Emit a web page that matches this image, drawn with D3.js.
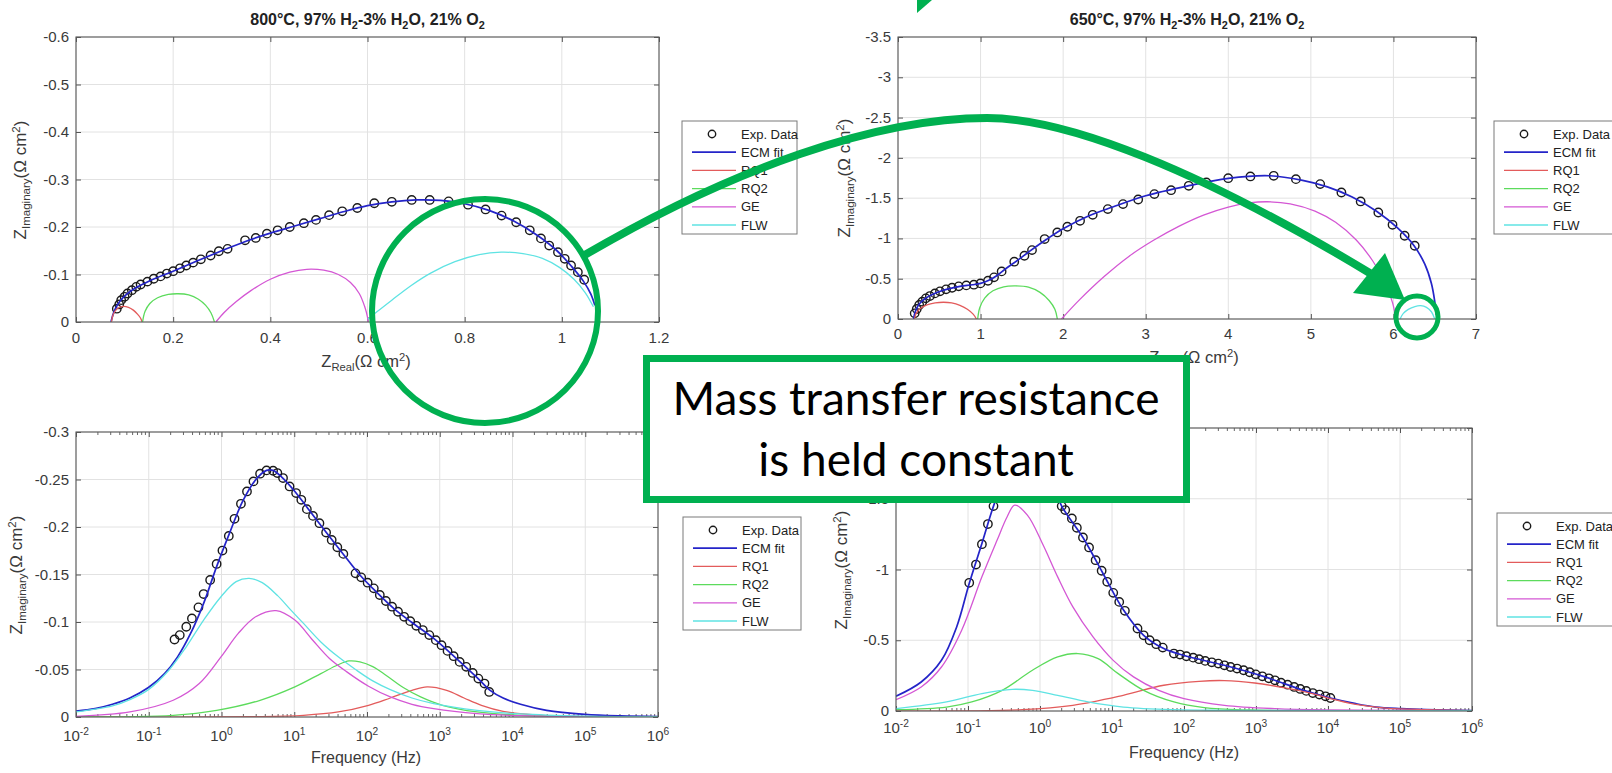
<!DOCTYPE html>
<html>
<head>
<meta charset="utf-8">
<script src="https://cdn.jsdelivr.net/npm/d3@7"></script>
<style>
  body { margin: 0; background: #fff; }
  svg text { font-family: "Liberation Sans", Arial, Helvetica, sans-serif; }
</style>
</head>
<body>
<svg id="chart" width="1612" height="773"></svg>
<script>
// ---- data: [Z', Z''] for Nyquist, [f (Hz), Z''] for Bode ----
const nyq800Exp = [[0.084,-0.028],[0.089,-0.037],[0.093,-0.046],[0.100,-0.053],[0.106,-0.060],[0.115,-0.067],[0.124,-0.074],[0.133,-0.079],[0.147,-0.085],[0.160,-0.091],[0.174,-0.096],[0.187,-0.102],[0.200,-0.107],[0.214,-0.113],[0.227,-0.119],[0.241,-0.125],[0.257,-0.132],[0.277,-0.140],[0.294,-0.149],[0.312,-0.154],[0.348,-0.172],[0.370,-0.177],[0.393,-0.186],[0.415,-0.193],[0.440,-0.200],[0.469,-0.208],[0.494,-0.215],[0.521,-0.225],[0.548,-0.233],[0.579,-0.240],[0.614,-0.250],[0.650,-0.253],[0.691,-0.257],[0.728,-0.257],[0.767,-0.254],[0.807,-0.247],[0.843,-0.237],[0.876,-0.224],[0.906,-0.210],[0.934,-0.193],[0.957,-0.176],[0.974,-0.161],[0.992,-0.147],[1.006,-0.133],[1.019,-0.119],[1.033,-0.105],[1.046,-0.089]];
const nyq800Fit = [[0.072,0],[0.076,-0.015],[0.082,-0.030],[0.090,-0.043],[0.105,-0.059],[0.125,-0.073],[0.150,-0.086],[0.200,-0.107],[0.250,-0.129],[0.300,-0.150],[0.350,-0.170],[0.400,-0.187],[0.450,-0.202],[0.500,-0.217],[0.550,-0.232],[0.600,-0.245],[0.650,-0.253],[0.700,-0.257],[0.750,-0.256],[0.800,-0.249],[0.850,-0.235],[0.900,-0.213],[0.950,-0.182],[0.990,-0.150],[1.020,-0.117],[1.045,-0.085],[1.060,-0.058],[1.068,-0.035]];
const nyq800RQ1 = [[0.073,0],[0.076,-0.014],[0.082,-0.025],[0.090,-0.031],[0.098,-0.033],[0.108,-0.031],[0.118,-0.025],[0.127,-0.016],[0.133,-0.008],[0.136,0]];
const nyq800RQ2 = [[0.137,0],[0.142,-0.022],[0.152,-0.039],[0.168,-0.051],[0.190,-0.058],[0.210,-0.0595],[0.232,-0.057],[0.252,-0.048],[0.267,-0.035],[0.278,-0.019],[0.285,0]];
const nyq800GE = [[0.288,0],[0.305,-0.020],[0.330,-0.043],[0.360,-0.066],[0.400,-0.090],[0.440,-0.105],[0.475,-0.111],[0.510,-0.109],[0.540,-0.100],[0.565,-0.083],[0.583,-0.060],[0.594,-0.033],[0.600,-0.010],[0.601,0]];
const nyq800FLW = [[0.601,-0.006],[0.620,-0.022],[0.650,-0.046],[0.690,-0.077],[0.730,-0.103],[0.780,-0.127],[0.830,-0.142],[0.875,-0.147],[0.920,-0.144],[0.960,-0.134],[0.995,-0.115],[1.025,-0.090],[1.048,-0.062],[1.065,-0.032]];

const nyq650Exp = [[0.202,-0.070],[0.227,-0.124],[0.257,-0.174],[0.294,-0.215],[0.337,-0.256],[0.386,-0.285],[0.447,-0.318],[0.508,-0.343],[0.582,-0.368],[0.655,-0.388],[0.735,-0.405],[0.827,-0.417],[0.919,-0.426],[0.998,-0.442],[1.090,-0.475],[1.163,-0.517],[1.255,-0.591],[1.408,-0.711],[1.531,-0.785],[1.623,-0.855],[1.776,-0.992],[1.929,-1.074],[2.051,-1.145],[2.205,-1.219],[2.358,-1.293],[2.541,-1.364],[2.725,-1.426],[2.909,-1.483],[3.105,-1.550],[3.307,-1.599],[3.521,-1.653],[3.735,-1.694],[3.999,-1.748],[4.268,-1.769],[4.550,-1.777],[4.819,-1.736],[5.113,-1.674],[5.370,-1.570],[5.603,-1.459],[5.817,-1.322],[5.989,-1.169],[6.136,-1.033],[6.258,-0.909]];
const nyq650Fit = [[0.19,0],[0.20,-0.06],[0.22,-0.12],[0.26,-0.19],[0.33,-0.255],[0.45,-0.32],[0.60,-0.37],[0.75,-0.405],[0.90,-0.425],[1.00,-0.443],[1.10,-0.48],[1.20,-0.54],[1.30,-0.62],[1.45,-0.73],[1.60,-0.845],[1.80,-0.99],[2.00,-1.12],[2.30,-1.275],[2.60,-1.39],[3.00,-1.53],[3.50,-1.65],[4.00,-1.745],[4.50,-1.778],[4.90,-1.72],[5.20,-1.64],[5.50,-1.515],[5.80,-1.335],[6.05,-1.13],[6.25,-0.91],[6.38,-0.68],[6.46,-0.44],[6.50,-0.22],[6.52,-0.05]];
const nyq650RQ1 = [[0.20,0],[0.22,-0.07],[0.27,-0.13],[0.35,-0.175],[0.45,-0.20],[0.55,-0.208],[0.65,-0.20],[0.75,-0.17],[0.84,-0.12],[0.91,-0.06],[0.95,0]];
const nyq650RQ2 = [[0.965,0],[0.99,-0.14],[1.05,-0.26],[1.15,-0.35],[1.28,-0.40],[1.43,-0.41],[1.58,-0.395],[1.72,-0.33],[1.83,-0.23],[1.90,-0.12],[1.93,0]];
const nyq650GE = [[1.98,0],[2.20,-0.24],[2.50,-0.53],[2.80,-0.78],[3.10,-0.98],[3.40,-1.15],[3.70,-1.29],[4.00,-1.39],[4.25,-1.44],[4.47,-1.455],[4.75,-1.43],[5.05,-1.34],[5.30,-1.20],[5.55,-0.98],[5.75,-0.72],[5.90,-0.45],[5.99,-0.20],[6.03,0]];
const nyq650FLW = [[6.08,0],[6.12,-0.07],[6.18,-0.12],[6.26,-0.155],[6.33,-0.165],[6.40,-0.145],[6.46,-0.09],[6.50,0]];

const bode800Exp = [[0.226,-0.0816],[0.267,-0.0862],[0.328,-0.095],[0.392,-0.1038],[0.482,-0.1154],[0.568,-0.1294],[0.698,-0.1442],[0.857,-0.1611],[1.03,-0.1752],[1.26,-0.1906],[1.51,-0.2086],[1.85,-0.2244],[2.24,-0.2374],[2.75,-0.248],[3.39,-0.2561],[4.16,-0.2596],[5.12,-0.2592],[5.86,-0.2568],[7.01,-0.2515],[8.63,-0.2427],[10.6,-0.2357],[12.5,-0.2286],[14.9,-0.2188],[18.1,-0.2117],[22.2,-0.204],[27.4,-0.1942],[32.7,-0.1864],[39.1,-0.1787],[47.3,-0.1717],[69.5,-0.1512],[83.2,-0.147],[102,-0.1414],[124,-0.1354],[150,-0.1284],[182,-0.1221],[221,-0.1161],[267,-0.1108],[324,-0.1055],[393,-0.1009],[476,-0.096],[585,-0.0915],[719,-0.0862],[883,-0.0809],[1057,-0.0756],[1279,-0.0696],[1552,-0.064],[1879,-0.058],[2312,-0.0528],[2838,-0.0464],[3396,-0.0404],[4121,-0.0352],[4786,-0.0264]];
const bode800Fit = [[0.01,-0.0063],[0.0183,-0.0088],[0.0317,-0.0134],[0.055,-0.02],[0.099,-0.031],[0.165,-0.0457],[0.249,-0.0633],[0.376,-0.0879],[0.568,-0.1196],[0.857,-0.1583],[1.29,-0.1935],[1.95,-0.2269],[2.95,-0.2497],[4.16,-0.2596],[5.12,-0.2596],[6.73,-0.2525],[10.2,-0.2374],[15.3,-0.2198],[26.6,-0.1959],[46.1,-0.1724],[79.8,-0.1495],[138,-0.1308],[239,-0.1136],[415,-0.0995],[825,-0.0827],[1640,-0.0626],[3260,-0.0415],[4920,-0.0281],[7430,-0.02],[12900,-0.0134],[29400,-0.007],[98400,-0.0028],[303000,-0.0011],[1e6,-0.0004]];
const bode800RQ1 = [[0.01,0],[3.39,-0.0004],[13.4,-0.0018],[40.2,-0.0053],[105,-0.0123],[209,-0.02],[415,-0.0281],[671,-0.0317],[1245,-0.0281],[2158,-0.02],[3740,-0.0123],[7430,-0.006],[25600,-0.0018],[1e6,0]];
const bode800RQ2 = [[0.01,0],[0.217,-0.0018],[0.857,-0.007],[3.39,-0.0176],[10.2,-0.0317],[23.2,-0.0457],[40,-0.055],[56.6,-0.059],[80,-0.058],[120,-0.053],[182,-0.044],[315,-0.031],[546,-0.0211],[1087,-0.0123],[3260,-0.0053],[12900,-0.0018],[1e6,0]];
const bode800GE = [[0.01,-0.0007],[0.055,-0.0053],[0.217,-0.0176],[0.495,-0.0352],[0.984,-0.0633],[1.7,-0.088],[2.95,-0.1055],[5.64,-0.112],[10.2,-0.102],[17.6,-0.0816],[30.5,-0.0616],[52.8,-0.0475],[105,-0.0324],[209,-0.0211],[415,-0.0134],[825,-0.0088],[3260,-0.0035],[12900,-0.0014],[1e6,-0.0004]];
const bode800FLW = [[0.01,-0.0053],[0.0317,-0.0116],[0.055,-0.0183],[0.099,-0.0288],[0.189,-0.0492],[0.328,-0.0739],[0.568,-0.102],[0.984,-0.1266],[1.59,-0.1425],[2.4,-0.146],[3.63,-0.1414],[5.86,-0.128],[8.87,-0.113],[13.4,-0.0985],[23.2,-0.079],[40.2,-0.0633],[69.5,-0.05],[120,-0.038],[209,-0.0288],[415,-0.02],[825,-0.0141],[3260,-0.007],[12900,-0.0032],[98400,-0.001],[1e6,-0.0004]];

const bode650Exp = [[0.104,-0.906],[0.129,-1.035],[0.156,-1.179],[0.189,-1.321],[0.226,-1.448],[0.275,-1.58],[0.339,-1.69],[0.425,-1.76],[0.55,-1.785],[0.724,-1.778],[0.953,-1.738],[1.23,-1.68],[1.55,-1.6],[1.82,-1.52],[2.0,-1.448],[2.24,-1.42],[2.77,-1.361],[3.25,-1.295],[3.95,-1.226],[4.8,-1.156],[5.92,-1.066],[7.18,-0.991],[8.58,-0.913],[10.4,-0.835],[12.6,-0.771],[15.1,-0.708],[22.6,-0.583],[27.5,-0.535],[33.3,-0.5],[41.1,-0.472],[50.7,-0.448],[72.4,-0.406],[87.9,-0.399],[108,-0.387],[134,-0.377],[162,-0.366],[197,-0.354],[243,-0.344],[300,-0.335],[364,-0.323],[443,-0.311],[546,-0.3],[673,-0.288],[817,-0.274],[991,-0.259],[1224,-0.245],[1510,-0.231],[1833,-0.217],[2225,-0.2],[2746,-0.186],[3388,-0.17],[4113,-0.156],[4992,-0.142],[6156,-0.127],[7596,-0.116],[9220,-0.104],[10800,-0.092]];
const bode650Fit = [[0.01,-0.104],[0.0224,-0.205],[0.0428,-0.358],[0.0696,-0.594],[0.104,-0.901],[0.156,-1.184],[0.226,-1.448],[0.35,-1.7],[0.57,-1.785],[0.92,-1.75],[1.5,-1.6],[2.0,-1.448],[3.95,-1.226],[7.5,-0.972],[14.3,-0.717],[27.5,-0.535],[52.4,-0.441],[100,-0.392],[364,-0.323],[1330,-0.241],[4710,-0.144],[10800,-0.092],[24300,-0.052],[46400,-0.028],[104000,-0.0165],[233000,-0.0094],[1e6,-0.0024]];
const bode650RQ1 = [[0.01,0],[0.57,-0.0094],[2.86,-0.04],[14.3,-0.111],[52.4,-0.182],[162,-0.21],[364,-0.215],[959,-0.198],[2535,-0.163],[6680,-0.118],[10800,-0.087],[24300,-0.047],[64100,-0.021],[233000,-0.0094],[1e6,-0.0024]];
const bode650RQ2 = [[0.01,-0.0094],[0.0503,-0.028],[0.113,-0.064],[0.298,-0.146],[0.785,-0.288],[1.76,-0.382],[3.36,-0.406],[6.41,-0.37],[12.2,-0.264],[27.5,-0.146],[72.4,-0.064],[191,-0.0236],[817,-0.007],[9220,-0.0024],[1e6,0]];
const bode650GE = [[0.01,-0.08],[0.0224,-0.17],[0.0428,-0.311],[0.0817,-0.571],[0.156,-0.948],[0.254,-1.208],[0.35,-1.373],[0.446,-1.455],[0.668,-1.384],[1.08,-1.184],[1.76,-0.948],[2.86,-0.736],[5.45,-0.524],[10.4,-0.358],[19.9,-0.241],[44.6,-0.146],[100,-0.087],[364,-0.04],[1833,-0.0165],[9220,-0.007],[1e6,-0.0024]];
const bode650FLW = [[0.01,-0.0165],[0.0503,-0.064],[0.156,-0.123],[0.411,-0.153],[0.785,-0.146],[1.76,-0.111],[4.64,-0.064],[14.4,-0.028],[72.4,-0.0094],[364,-0.0047],[1e6,-0.0024]];

// tick values (labelled ones; -2 on the 650 Bode axis sits under the callout box)
const nyq800XTicks = [0, 0.2, 0.4, 0.6, 0.8, 1, 1.2];
const nyq800YTicks = [0, -0.1, -0.2, -0.3, -0.4, -0.5, -0.6];
const nyq650XTicks = [0, 1, 2, 3, 4, 5, 6, 7];
const nyq650YTicks = [0, -0.5, -1, -1.5, -2, -2.5, -3, -3.5];
const freqTicks = [1e-2, 1e-1, 1e0, 1e1, 1e2, 1e3, 1e4, 1e5, 1e6];
const bode800YTicks = [0, -0.05, -0.1, -0.15, -0.2, -0.25, -0.3];
const bode650YTicks = [0, -0.5, -1, -1.5, -2];
const bode650YHidden = [-2];

const legendNames = ["Exp. Data", "ECM fit", "RQ1", "RQ2", "GE", "FLW"];
const lineColors = ["#2424c8", "#e35b5b", "#5cdb5c", "#d457d4", "#5fe3e3"];
const green = "#00b050";

const svg = d3.select("#chart");

// small helper for text with sub/superscripts
function rich(textSel, parts, size) {
  let shift = 0;
  parts.forEach(([t, kind]) => {
    const target = kind === "sub" ? 4 : kind === "sup" ? -6 : 0;
    textSel.append("tspan")
      .attr("dy", target - shift)
      .attr("font-size", kind ? size * 0.68 : size)
      .text(t);
    shift = target;
  });
}

const zRealParts = [["Z"], ["Real", "sub"], ["(\u03A9 cm"], ["2", "sup"], [")"]];
const zImagParts = [["Z"], ["Imaginary", "sub"], ["(\u03A9 cm"], ["2", "sup"], [")"]];

function drawPanel(p) {
  const g = svg.append("g");
  const x = (p.logX ? d3.scaleLog() : d3.scaleLinear()).domain(p.xDomain).range([p.left, p.right]);
  const y = d3.scaleLinear().domain(p.yDomain).range([p.bottom, p.top]);

  // grid
  g.append("g").selectAll("line").data(p.xTicks).join("line")
    .attr("x1", d => x(d)).attr("x2", d => x(d))
    .attr("y1", p.top).attr("y2", p.bottom)
    .attr("stroke", "#e2e2e2");
  g.append("g").selectAll("line").data(p.yTicks).join("line")
    .attr("x1", p.left).attr("x2", p.right)
    .attr("y1", d => y(d)).attr("y2", d => y(d))
    .attr("stroke", "#e2e2e2");

  // tick marks, inward, all four sides
  const tickStyle = s => {
    s.select(".domain").remove();
    s.selectAll("line").attr("stroke", "#555");
  };
  g.append("g").attr("transform", `translate(0,${p.bottom})`)
    .call(d3.axisBottom(x).tickValues(p.xTicks).tickSize(-5).tickFormat("")).call(tickStyle);
  g.append("g").attr("transform", `translate(0,${p.top})`)
    .call(d3.axisTop(x).tickValues(p.xTicks).tickSize(-5).tickFormat("")).call(tickStyle);
  g.append("g").attr("transform", `translate(${p.left},0)`)
    .call(d3.axisLeft(y).tickValues(p.yTicks).tickSize(-5).tickFormat("")).call(tickStyle);
  g.append("g").attr("transform", `translate(${p.right},0)`)
    .call(d3.axisRight(y).tickValues(p.yTicks).tickSize(-5).tickFormat("")).call(tickStyle);

  if (p.logX) {
    const minor = x.ticks().filter(d => !p.xTicks.includes(d));
    [[p.bottom, -3], [p.top, 3]].forEach(([yy, len]) => {
      g.append("g").selectAll("line").data(minor).join("line")
        .attr("x1", d => x(d)).attr("x2", d => x(d))
        .attr("y1", yy).attr("y2", yy + len)
        .attr("stroke", "#666");
    });
  }

  // data
  const clipId = "clip-" + p.id;
  svg.append("clipPath").attr("id", clipId).append("rect")
    .attr("x", p.left).attr("y", p.top)
    .attr("width", p.right - p.left).attr("height", p.bottom - p.top);
  const plot = g.append("g").attr("clip-path", `url(#${clipId})`);
  const line = d3.line().x(d => x(d[0])).y(d => y(d[1])).curve(d3.curveCatmullRom.alpha(0.5));

  plot.append("g").selectAll("circle").data(p.exp).join("circle")
    .attr("cx", d => x(d[0])).attr("cy", d => y(d[1])).attr("r", 4.2)
    .attr("fill", "none").attr("stroke", "#1a1a1a").attr("stroke-width", 1.4);

  p.lines.forEach((ser, i) => {
    plot.append("path").datum(ser)
      .attr("d", line)
      .attr("fill", "none")
      .attr("stroke", lineColors[i])
      .attr("stroke-width", i === 0 ? 1.7 : 1.3);
  });

  // frame
  g.append("rect")
    .attr("x", p.left).attr("y", p.top)
    .attr("width", p.right - p.left).attr("height", p.bottom - p.top)
    .attr("fill", "none").attr("stroke", "#5a5a5a").attr("stroke-width", 1.1);

  // tick labels
  const xl = g.append("g").attr("fill", "#3a3a3a").attr("font-size", 15).attr("text-anchor", "middle");
  p.xTicks.forEach(d => {
    const t = xl.append("text").attr("x", x(d)).attr("y", p.bottom + p.xLabelOff);
    if (p.logX) {
      rich(t, [["10"], [String(Math.round(Math.log10(d))), "sup"]], 15);
    } else {
      t.text(String(d));
    }
  });
  const hidden = p.yHidden || [];
  g.append("g").attr("fill", "#3a3a3a").attr("font-size", 15).attr("text-anchor", "end")
    .selectAll("text").data(p.yTicks.filter(d => !hidden.includes(d))).join("text")
    .attr("x", p.left - 7).attr("y", d => y(d) + 5)
    .text(d => String(d));

  // axis labels
  const xt = g.append("text").attr("x", p.xTitle[0]).attr("y", p.xTitle[1])
    .attr("text-anchor", "middle").attr("fill", "#3a3a3a");
  if (p.logX) xt.attr("font-size", 16).text("Frequency (Hz)");
  else rich(xt, zRealParts, 16.5);

  const yt = g.append("text")
    .attr("transform", `translate(${p.yTitle[0]},${p.yTitle[1]}) rotate(-90)`)
    .attr("text-anchor", "middle").attr("fill", "#3a3a3a");
  rich(yt, zImagParts, 17);

  if (p.title) {
    const tt = g.append("text").attr("x", (p.left + p.right) / 2).attr("y", p.top - 12)
      .attr("text-anchor", "middle").attr("font-weight", "bold").attr("fill", "#222");
    rich(tt, p.title, 16);
  }

  // legend
  const lg = svg.append("g").attr("transform", `translate(${p.legend[0]},${p.legend[1]})`);
  lg.append("rect").attr("width", p.legend[2]).attr("height", 113)
    .attr("fill", "#fff").attr("stroke", "#7a7a7a");
  legendNames.forEach((name, i) => {
    const yy = 13 + i * 18.2;
    if (i === 0) {
      lg.append("circle").attr("cx", 30).attr("cy", yy).attr("r", 3.7)
        .attr("fill", "none").attr("stroke", "#1a1a1a").attr("stroke-width", 1.4);
    } else {
      lg.append("line").attr("x1", 10).attr("x2", 54).attr("y1", yy).attr("y2", yy)
        .attr("stroke", lineColors[i - 1]).attr("stroke-width", i === 1 ? 1.7 : 1.3);
    }
    lg.append("text").attr("x", 59).attr("y", yy + 4.5)
      .attr("font-size", 13).attr("fill", "#222").text(name);
  });
}

const titleParts = temp => [[temp + "\u00B0C, 97% H"], ["2", "sub"], ["-3% H"], ["2", "sub"], ["O, 21% O"], ["2", "sub"]];

drawPanel({
  id: "p1", left: 76, right: 659, top: 37, bottom: 322, logX: false,
  xDomain: [0, 1.2], yDomain: [0, -0.6], xTicks: nyq800XTicks, yTicks: nyq800YTicks,
  exp: nyq800Exp, lines: [nyq800Fit, nyq800RQ1, nyq800RQ2, nyq800GE, nyq800FLW],
  xLabelOff: 21, xTitle: [366, 367], yTitle: [26, 180],
  title: titleParts("800"), legend: [682, 121, 115]
});
drawPanel({
  id: "p2", left: 898, right: 1476, top: 37, bottom: 319, logX: false,
  xDomain: [0, 7], yDomain: [0, -3.5], xTicks: nyq650XTicks, yTicks: nyq650YTicks,
  exp: nyq650Exp, lines: [nyq650Fit, nyq650RQ1, nyq650RQ2, nyq650GE, nyq650FLW],
  xLabelOff: 20, xTitle: [1194, 363], yTitle: [850, 178],
  title: titleParts("650"), legend: [1494, 121, 125]
});
drawPanel({
  id: "p3", left: 76, right: 658, top: 432, bottom: 717, logX: true,
  xDomain: [1e-2, 1e6], yDomain: [0, -0.3], xTicks: freqTicks, yTicks: bode800YTicks,
  exp: bode800Exp, lines: [bode800Fit, bode800RQ1, bode800RQ2, bode800GE, bode800FLW],
  xLabelOff: 24, xTitle: [366, 763], yTitle: [22, 575],
  title: null, legend: [683, 517, 118]
});
drawPanel({
  id: "p4", left: 896, right: 1472, top: 428, bottom: 711, logX: true,
  xDomain: [1e-2, 1e6], yDomain: [0, -2], xTicks: freqTicks, yTicks: bode650YTicks,
  yHidden: bode650YHidden,
  exp: bode650Exp, lines: [bode650Fit, bode650RQ1, bode650RQ2, bode650GE, bode650FLW],
  xLabelOff: 22, xTitle: [1184, 758], yTitle: [847, 570],
  title: null, legend: [1497, 513, 125]
});

// ---- annotations (slide overlay) ----
const ann = svg.append("g");
ann.append("ellipse").attr("cx", 485).attr("cy", 311).attr("rx", 113).attr("ry", 112)
  .attr("fill", "none").attr("stroke", green).attr("stroke-width", 6);

ann.append("path")
  .attr("d", "M583,256 C733,168 877,118 987,118 C1067,118 1200,170 1373,275")
  .attr("fill", "none").attr("stroke", green).attr("stroke-width", 8);
ann.append("polygon")
  .attr("points", "1405,300 1353,293 1385,253")
  .attr("fill", green);

ann.append("ellipse").attr("cx", 1417).attr("cy", 317).attr("rx", 21).attr("ry", 21)
  .attr("fill", "none").attr("stroke", green).attr("stroke-width", 5);

ann.append("polygon").attr("points", "917,0 932,0 917,13").attr("fill", green);

ann.append("rect").attr("x", 646.5).attr("y", 358.5).attr("width", 540).attr("height", 141)
  .attr("fill", "#fff").attr("stroke", green).attr("stroke-width", 7);
const callout = ann.append("text").attr("text-anchor", "middle").attr("fill", "#000")
  .style("font-family", "Lato, 'Open Sans', sans-serif").attr("font-size", 46);
callout.append("tspan").attr("x", 916).attr("y", 415).text("Mass transfer resistance");
callout.append("tspan").attr("x", 916).attr("y", 476).text("is held constant");
</script>
</body>
</html>
